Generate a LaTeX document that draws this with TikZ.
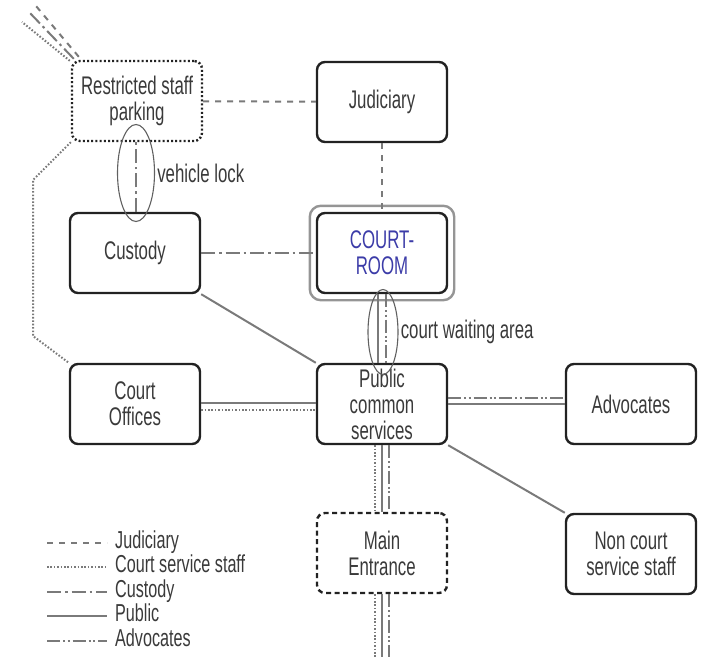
\documentclass[tikz,border=0pt]{standalone}
\usepackage{fontspec}
\setmainfont{Liberation Sans}[FakeStretch=0.66]
\usepackage{tikz}
\usetikzlibrary{shapes.geometric}

\definecolor{boxline}{HTML}{222222}
\definecolor{linkgray}{HTML}{7A7A7A}
\definecolor{textgray}{HTML}{3A3A3A}
\definecolor{roomblue}{HTML}{3C3CA8}

\tikzset{
  room/.style={draw=boxline, line width=2.4pt, rounded corners=8pt,
    minimum width=130pt, minimum height=80pt, inner sep=1pt, align=center,
    text=textgray, font=\fontsize{25.5}{26}\selectfont},
  judline/.style={linkgray, line width=2pt, dash pattern=on 6pt off 6pt},
  staffline/.style={linkgray, line width=2pt, dash pattern=on 1.6pt off 1.8pt},
  custline/.style={linkgray, line width=2pt, dash pattern=on 14pt off 4pt on 2.5pt off 4pt},
  publine/.style={linkgray, line width=2pt},
  advline/.style={linkgray, line width=2pt, dash pattern=on 13pt off 3pt on 2pt off 2.5pt on 2pt off 3pt},
  lockring/.style={ellipse, draw=textgray!80, line width=1.1pt, inner sep=0pt},
  note/.style={anchor=west, inner sep=2pt, text=textgray, font=\fontsize{25.5}{26}\selectfont},
  legendtext/.style={note, inner ysep=0pt, text height=15pt, text depth=4pt, font=\fontsize{24.5}{25}\selectfont},
}

\begin{document}
\begin{tikzpicture}[x=1pt, y=-1pt]
  \useasboundingbox (0,0) rectangle (704,656);

  % rooms
  \node[room, dash pattern=on 2pt off 2.2pt] (parking) at (137,101) {Restricted staff\\parking};
  \node[room] (judiciary) at (382,102) {Judiciary};
  \node[room] (custody) at (135,253) {Custody};
  \node[room, text=roomblue] (courtroom) at (382,253) {COURT-\\ROOM};
  \node[room] (offices) at (135,404) {Court\\Offices};
  \node[room] (public) at (382,404) {Public\\common\\services};
  \node[room] (advocates) at (631,404) {Advocates};
  \node[room, dash pattern=on 5pt off 3.5pt] (entrance) at (382,553) {Main\\Entrance};
  \node[room] (noncourt) at (631,554) {Non court\\service staff};

  % outer ring of the court room
  \draw[linkgray!80, line width=2.4pt, rounded corners=11pt]
    ([xshift=-6pt,yshift=-6pt]courtroom.south west) rectangle ([xshift=6pt,yshift=6pt]courtroom.north east);

  % points off the picture
  \coordinate (bendA) at (33,180);
  \coordinate (bendB) at (33,336);
  \coordinate (offStaff) at (22,22);
  \coordinate (offCust) at (29,12);
  \coordinate (offJud) at (36,6);
  \coordinate (exit) at (382,660);

  % judiciary routes
  \draw[judline] (parking) -- (judiciary);
  \draw[judline] (judiciary) -- (courtroom);
  \draw[judline] ([xshift=8pt,yshift=3pt]parking.north west) -- (offJud);

  % court service staff routes
  \draw[staffline] (parking.south west) -- (bendA) -- (bendB) -- (offices.north west);
  \draw[staffline] ([xshift=-1pt,yshift=-1pt]parking.north west) -- (offStaff);
  \draw[staffline] ([yshift=-6pt]offices.east) -- ([yshift=-6pt]public.west);
  \draw[staffline] ([xshift=-7pt]public.south) -- ([xshift=-7pt]entrance.north);
  \draw[staffline] ([xshift=-7pt]entrance.south) -- ([xshift=-7pt]exit);

  % custody routes
  \draw[custline] (custody.north -| 136,0) -- (parking.south -| 136,0);
  \draw[custline] ([xshift=3pt,yshift=1pt]parking.north west) -- (offCust);
  \draw[custline] (custody) -- (courtroom);

  % public routes
  \draw[publine] (custody.south east) -- (public.north west);
  \draw[publine] ([xshift=-4pt]courtroom.south) -- ([xshift=-4pt]public.north);
  \draw[publine] ([yshift=1pt]offices.east) -- ([yshift=1pt]public.west);
  \draw[publine] (public.east) -- (advocates.west);
  \draw[publine] (public.south east) -- (noncourt.north west);
  \draw[publine] (public.south) -- (entrance.north);
  \draw[publine] (entrance.south) -- (exit);

  % advocates routes
  \draw[advline] ([xshift=4pt]courtroom.south) -- ([xshift=4pt]public.north);
  \draw[advline] ([yshift=6pt]public.east) -- ([yshift=6pt]advocates.west);
  \draw[advline] ([xshift=7pt]public.south) -- ([xshift=7pt]entrance.north);
  \draw[advline] ([xshift=7pt]entrance.south) -- ([xshift=7pt]exit);

  % locks
  \node[lockring, minimum width=37pt, minimum height=97pt] (vlock) at (136,173) {};
  \node[note] (vlocktext) at (vlock.east) {vehicle lock};
  \node[lockring, minimum width=30pt, minimum height=85pt] (wait) at (383,332) {};
  \node[note] (waittext) at (wait.east) {court waiting area};

  % legend
  \foreach \sty/\txt [count=\i] in {judline/Judiciary, staffline/Court service staff,
      custline/Custody, publine/Public, advline/Advocates}
  {
    \node[legendtext] (leg\i) at (113,{518+24.5*\i}) {\txt};
    \draw[\sty] ([xshift=-66pt]leg\i.west) -- ([xshift=-6pt]leg\i.west);
  }
\end{tikzpicture}
\end{document}
